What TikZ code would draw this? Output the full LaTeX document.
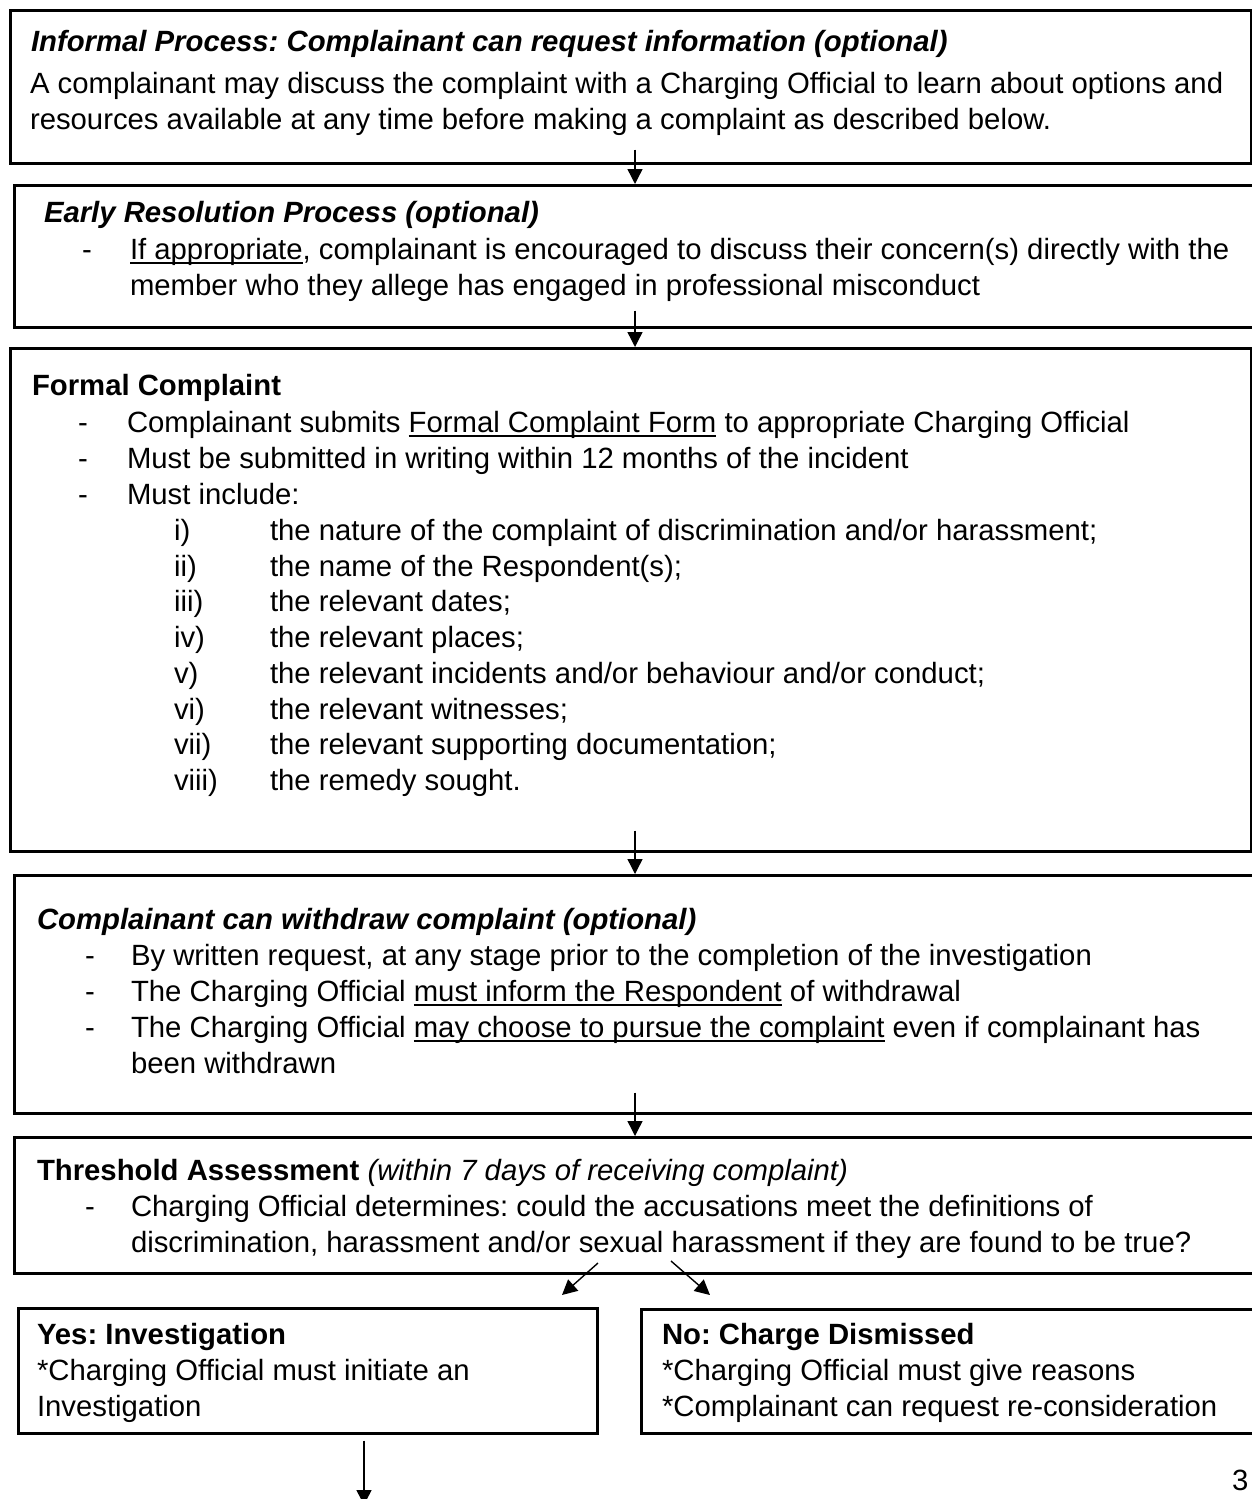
\documentclass[tikz,border=0pt]{standalone}
\usepackage{fontspec}
\setmainfont{Liberation Sans}
\usetikzlibrary{arrows.meta}
\frenchspacing
\newcommand\myul[1]{\setbox0\hbox{#1}\rlap{\rule[-4.5pt]{\wd0}{1.8pt}}\box0\relax}
\newcommand\linenode[4]{\node[tx] (#1) at (#2,#3) {#4};}
\tikzset{
  box/.style={draw=black, line width=2.6pt, rectangle, inner sep=0pt, anchor=north west, fill=none},
  tx/.style={anchor=base west, inner sep=0pt, outer sep=0pt, font=\fontsize{29.3}{36}\selectfont\frenchspacing},
  arr/.style={line width=1.4pt, -{Triangle[width=15pt,length=15pt]}},
}
\begin{document}
\begin{tikzpicture}[x=1pt,y=-1pt]
\useasboundingbox (0,0) rectangle (1252,1499);
\clip (0,0) rectangle (1252,1499);
\fill[white] (0,0) rectangle (1252,1499);
\coordinate (axis) at (635,0);
% boxes
\node[box, minimum width=1241pt, minimum height=153pt] (b1) at (9,9) {};
\node[box, minimum width=1260pt, minimum height=142pt] (b2) at (13,184) {};
\node[box, minimum width=1241pt, minimum height=503pt] (b3) at (9,347) {};
\node[box, minimum width=1260pt, minimum height=238pt] (b4) at (13,874) {};
\node[box, minimum width=1260pt, minimum height=136pt] (b5) at (13,1136) {};
\node[box, minimum width=579pt, minimum height=125pt] (yes) at (17,1307) {};
\node[box, minimum width=700pt, minimum height=124pt] (no) at (640,1308) {};
% box 1
\linenode{t1a}{31}{51}{\textbf{\textit{Informal Process: Complainant can request information (optional)}}}
\linenode{t1b}{30}{93}{A complainant may discuss the complaint with a Charging Official to learn about options and}
\linenode{t1c}{30}{129}{resources available at any time before making a complaint as described below.}
% box 2
\linenode{t2a}{44}{222}{\textbf{\textit{Early Resolution Process (optional)}}}
\linenode{t2d}{82}{259}{-}
\linenode{t2b}{130}{259}{\myul{If appropriate}, complainant is encouraged to discuss their concern(s) directly with the}
\linenode{t2c}{130}{295}{member who they allege has engaged in professional misconduct}
% box 3
\linenode{t3a}{32}{395}{\textbf{Formal Complaint}}
\linenode{t3d1}{78}{432}{-}
\linenode{t3b}{127}{432}{Complainant submits \myul{Formal Complaint Form} to appropriate Charging Official}
\linenode{t3d2}{78}{468}{-}
\linenode{t3c}{127}{468}{Must be submitted in writing within 12 months of the incident}
\linenode{t3d3}{78}{504}{-}
\linenode{t3e}{127}{504}{Must include:}
\linenode{r1}{174}{540}{i)}
\linenode{s1}{270}{540}{the nature of the complaint of discrimination and/or harassment;}
\linenode{r2}{174}{576}{ii)}
\linenode{s2}{270}{576}{the name of the Respondent(s);}
\linenode{r3}{174}{611}{iii)}
\linenode{s3}{270}{611}{the relevant dates;}
\linenode{r4}{174}{647}{iv)}
\linenode{s4}{270}{647}{the relevant places;}
\linenode{r5}{174}{683}{v)}
\linenode{s5}{270}{683}{the relevant incidents and/or behaviour and/or conduct;}
\linenode{r6}{174}{719}{vi)}
\linenode{s6}{270}{719}{the relevant witnesses;}
\linenode{r7}{174}{754}{vii)}
\linenode{s7}{270}{754}{the relevant supporting documentation;}
\linenode{r8}{174}{790}{viii)}
\linenode{s8}{270}{790}{the remedy sought.}
% box 4
\linenode{t4a}{37}{929}{\textbf{\textit{Complainant can withdraw complaint (optional)}}}
\linenode{t4d1}{85}{965}{-}
\linenode{t4b}{131}{965}{By written request, at any stage prior to the completion of the investigation}
\linenode{t4d2}{85}{1001}{-}
\linenode{t4c}{131}{1001}{The Charging Official \myul{must inform the Respondent} of withdrawal}
\linenode{t4d3}{85}{1037}{-}
\linenode{t4e}{131}{1037}{The Charging Official \myul{may choose to pursue the complaint} even if complainant has}
\linenode{t4f}{131}{1073}{been withdrawn}
% box 5
\linenode{t5a}{37}{1180}{\textbf{Threshold Assessment} \textit{(within 7 days of receiving complaint)}}
\linenode{t5d}{85}{1216}{-}
\linenode{t5b}{131}{1216}{Charging Official determines: could the accusations meet the definitions of}
\linenode{t5c}{131}{1252}{discrimination, harassment and/or sexual harassment if they are found to be true?}
% yes / no
\linenode{y1}{37}{1344}{\textbf{Yes: Investigation}}
\linenode{y2}{37}{1380}{*Charging Official must initiate an}
\linenode{y3}{37}{1416}{Investigation}
\linenode{n1}{662}{1344}{\textbf{No: Charge Dismissed}}
\linenode{n2}{662}{1380}{*Charging Official must give reasons}
\linenode{n3}{662}{1416}{*Complainant can request re-consideration}
\linenode{pg}{1232}{1490}{3}
% connectors
\draw[arr] ([yshift=15pt]b1.south -| axis) -- (b2.north -| axis);
\draw[arr] ([yshift=18pt]b2.south -| axis) -- (b3.north -| axis);
\draw[arr] ([yshift=22pt]b3.south -| axis) -- (b4.north -| axis);
\draw[arr] ([yshift=22pt]b4.south -| axis) -- (b5.north -| axis);
\coordinate (dl0) at (598,1263);
\coordinate (dl1) at (562,1295);
\coordinate (dr0) at (671,1261);
\coordinate (dr1) at (710,1295);
\draw[arr] (dl0) -- (dl1);
\draw[arr] (dr0) -- (dr1);
\coordinate (down) at (364,1505);
\draw[arr] ([yshift=-6pt]yes.south -| down) -- (down);
\end{tikzpicture}
\end{document}
